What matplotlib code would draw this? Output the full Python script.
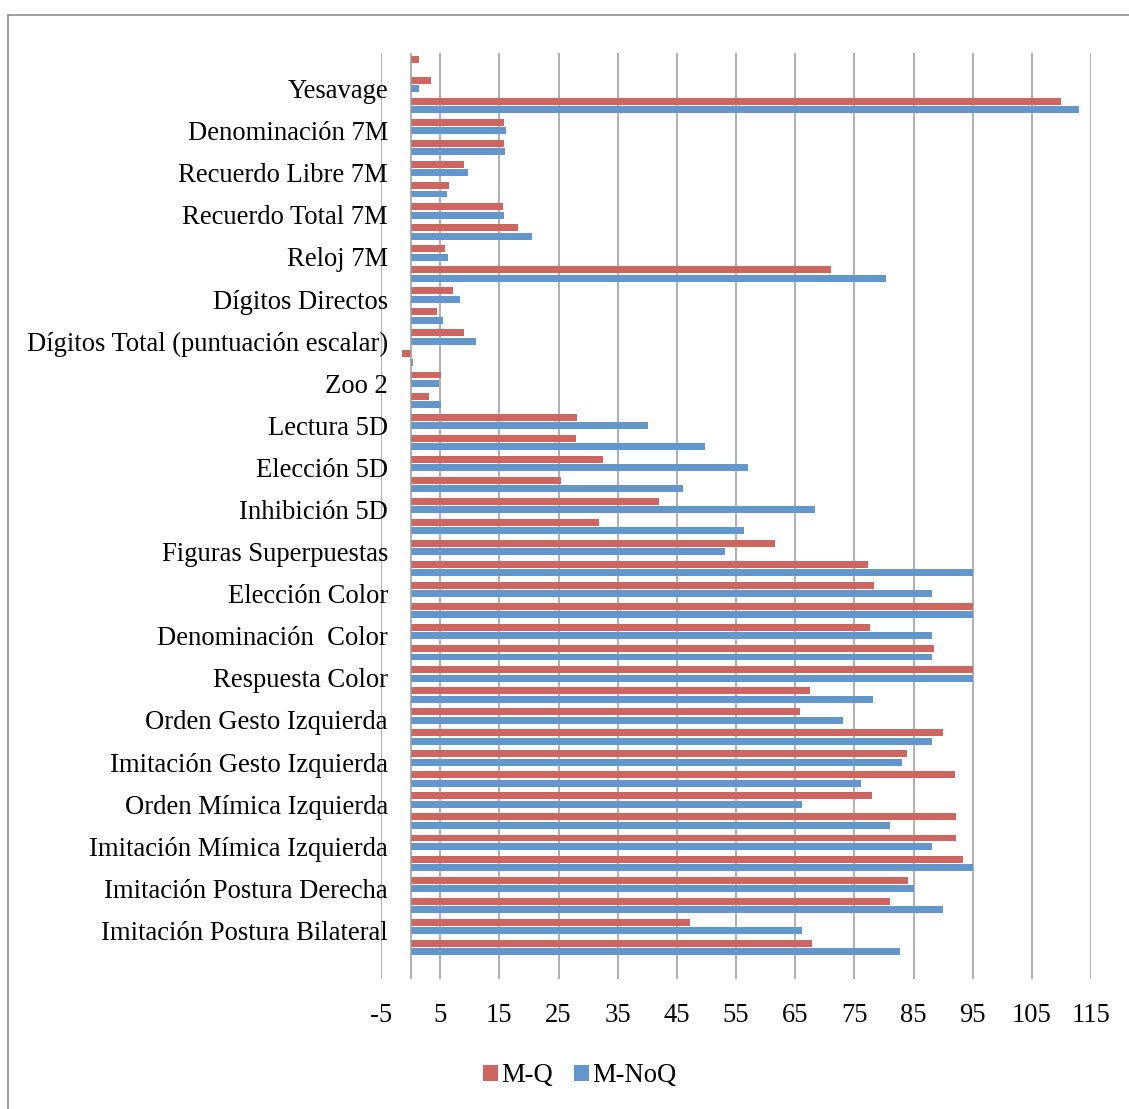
import matplotlib
matplotlib.use("Agg")
import matplotlib.pyplot as plt
import matplotlib.transforms as mtransforms
import numpy as np
from matplotlib.patches import Rectangle

plt.rcParams['font.family'] = ['Liberation Serif', 'DejaVu Serif']

# Test names, top to bottom; only every second test is labelled on the axis
labels = [
    "", "Yesavage",
    "", "Denominación 7M",
    "", "Recuerdo Libre 7M",
    "", "Recuerdo Total 7M",
    "", "Reloj 7M",
    "", "Dígitos Directos",
    "", "Dígitos Total (puntuación escalar)",
    "", "Zoo 2",
    "", "Lectura 5D",
    "", "Elección 5D",
    "", "Inhibición 5D",
    "", "Figuras Superpuestas",
    "", "Elección Color",
    "", "Denominación  Color",
    "", "Respuesta Color",
    "", "Orden Gesto Izquierda",
    "", "Imitación Gesto Izquierda",
    "", "Orden Mímica Izquierda",
    "", "Imitación Mímica Izquierda",
    "", "Imitación Postura Derecha",
    "", "Imitación Postura Bilateral",
    "", "",
]

m_q = [1.5, 3.4, 110.0, 15.8, 15.8, 9.0, 6.5, 15.6, 18.1, 5.9,
       71.0, 7.2, 4.5, 9.1, -1.4, 5.1, 3.1, 28.1, 27.9, 32.6,
       25.5, 42.0, 31.9, 61.6, 77.3, 78.3, 95.0, 77.7, 88.4, 95.0,
       67.5, 65.9, 90.0, 83.9, 92.0, 78.0, 92.2, 92.2, 93.4, 84.1,
       81.1, 47.3, 67.9, np.nan]

m_noq = [0.0, 1.35, 113.0, 16.1, 16.0, 9.75, 6.1, 15.8, 20.6, 6.3,
         80.4, 8.3, 5.4, 11.0, 0.45, 4.85, 5.1, 40.1, 49.7, 57.0,
         46.1, 68.4, 56.4, 53.1, 95.0, 88.1, 95.0, 88.1, 88.1, 95.0,
         78.1, 73.1, 88.1, 83.1, 76.1, 66.2, 81.1, 88.1, 95.0, 85.1,
         90.0, 66.2, 82.7, np.nan]

series_names = ["M-Q", "M-NoQ"]
colors = ["#CD6660", "#6397CC"]
x_ticks = list(range(-5, 116, 10))

FS = 19.2
W, H = 1129, 1109
fig = plt.figure(figsize=(W / 100, H / 100), dpi=100)
ax = fig.add_axes([381 / W, 1 - 979 / H, (1091 - 381) / W, (979 - 53) / H])

pos = np.arange(len(labels))
bar_h = 0.33
ax.barh(pos - 0.2, m_q, height=bar_h, color=colors[0], label=series_names[0],
        linewidth=0, zorder=3)
ax.barh(pos + 0.2, m_noq, height=bar_h, color=colors[1], label=series_names[1],
        linewidth=0, zorder=3)

ax.set_xlim(-5, 115)
ax.set_ylim(len(labels) - 0.5, -0.5)

ax.set_xticks(x_ticks)
ax.set_xticklabels([str(v) for v in x_ticks])
ax.grid(axis="x", color="#9a9a9a", linewidth=1.1, zorder=1)
ax.grid(axis="y", visible=False)
ax.axvline(0, color="#9a9a9a", linewidth=1.1, zorder=4)

shown = [i for i, s in enumerate(labels) if s]
ax.set_yticks(shown)
ax.set_yticklabels([labels[i] for i in shown])

for s in ax.spines.values():
    s.set_visible(False)
ax.tick_params(axis="x", length=0, pad=17, labelsize=FS)
ax.tick_params(axis="y", length=0, pad=-5, labelsize=FS)

# nudge category labels slightly down
shift = mtransforms.ScaledTranslation(0, -4 / 100, fig.dpi_scale_trans)
for lbl in ax.get_yticklabels():
    lbl.set_transform(lbl.get_transform() + shift)

fig.legend(loc="center", bbox_to_anchor=(580 / W, 1 - 1076 / H), ncol=2,
           frameon=False, fontsize=FS, handlelength=0.55, handleheight=0.55,
           handletextpad=0.12, columnspacing=0.8)

# chart frame
fig.add_artist(Rectangle((8 / W, -0.1), 2, 1.1 - 15 / H, transform=fig.transFigure,
                         fill=False, edgecolor="#8c8c8c", linewidth=1.2))

fig.savefig("out.png", dpi=100)
